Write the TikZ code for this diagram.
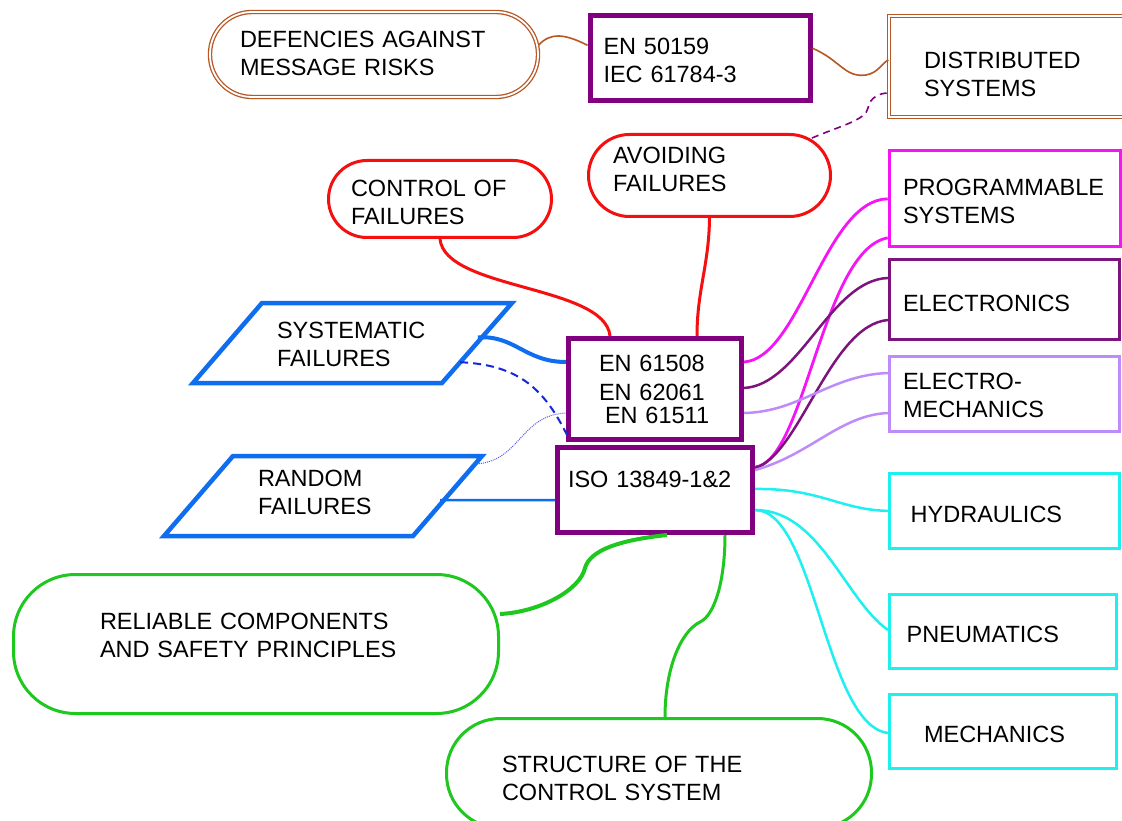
\documentclass[tikz,border=0pt]{standalone}
\usepackage{fontspec}
\setmainfont{Liberation Sans}
\usepackage{array}
\usetikzlibrary{calc}

\definecolor{brownc}{RGB}{183,87,36}
\definecolor{purplec}{RGB}{128,0,128}
\definecolor{redc}{RGB}{245,15,15}
\definecolor{bluec}{RGB}{15,110,240}
\definecolor{darkbluec}{RGB}{20,40,220}
\definecolor{dotbluec}{RGB}{90,90,230}
\definecolor{magentac}{RGB}{245,20,245}
\definecolor{elecc}{RGB}{125,20,125}
\definecolor{violetc}{RGB}{190,140,250}
\definecolor{cyanc}{RGB}{30,240,240}
\definecolor{greenc}{RGB}{30,200,30}

% text block: left aligned lines, raised by #1 without changing the box size
\newcommand\boxtext[2]{\raisebox{#1}[\height][\depth]{\begin{tabular}{@{}l@{}}#2\end{tabular}}}

\begin{document}
\begin{tikzpicture}[x=1pt,y=-1pt,
  every node/.style={font=\fontsize{23.5}{28}\selectfont, inner sep=0pt, align=left},
  brownbox/.style={draw=brownc, line width=1.3pt, double=white, double distance=1.8pt},
  stdbox/.style={draw=purplec, line width=5pt},
  redbox/.style={draw=redc, line width=3pt},
  magbox/.style={draw=magentac, line width=3pt},
  elecbox/.style={draw=elecc, line width=3pt},
  violbox/.style={draw=violetc, line width=3pt},
  cyanbox/.style={draw=cyanc, line width=3pt},
  greenbox/.style={draw=greenc, line width=3pt},
  bluepar/.style={draw=bluec, line width=4.5pt, line join=miter},
  brownlink/.style={draw=brownc, line width=1.6pt},
  redlink/.style={draw=redc, line width=3pt},
  magline/.style={draw=magentac, line width=2.8pt},
  elecline/.style={draw=elecc, line width=2.5pt},
  violline/.style={draw=violetc, line width=2.5pt},
  cyanline/.style={draw=cyanc, line width=2.5pt},
  greenline/.style={draw=greenc, line width=3pt},
]
\fill[white] (0,0) rectangle (1122,821);
\useasboundingbox (0,0) rectangle (1122,821);
\clip (0,0) rectangle (1122,821);

% ---- upper row ----
\node[brownbox, rounded corners=42pt, minimum width=328pt, minimum height=85pt, text width=268pt]
  (defe) at (374,54.5) {\boxtext{-1pt}{DEFENCIES AGAINST\\MESSAGE RISKS}};
\node[stdbox, minimum width=220pt, minimum height=84.5pt, text width=193pt]
  (en50159) at (700,58.25) {\boxtext{-4.3pt}{EN 50159\\IEC 61784-3}};
\node[brownbox, minimum width=271pt, minimum height=101pt, text width=201pt]
  (dist) at (1024.5,66.5) {\boxtext{-10.3pt}{DISTRIBUTED\\SYSTEMS}};

\node[redbox, rounded corners=41pt, minimum width=242pt, minimum height=82pt, text width=193pt]
  (avoid) at (709.5,175.5) {\boxtext{3.45pt}{AVOIDING\\FAILURES}};
\node[redbox, rounded corners=38.5pt, minimum width=223pt, minimum height=77pt, text width=178pt]
  (control) at (440,199) {\boxtext{-6.3pt}{CONTROL OF\\FAILURES}};

% ---- standards in the middle ----
\node[stdbox, minimum width=173pt, minimum height=101pt, text width=112pt]
  (en61508) at (655,389) {\boxtext{-2.8pt}{EN 61508\\[1pt]EN 62061\\[-5pt]\hspace*{6pt}EN 61511}};
\node[stdbox, minimum width=195pt, minimum height=85pt, text width=174pt]
  (iso) at (655,490) {\boxtext{8.2pt}{ISO 13849-1\&2}};

% ---- failure kinds ----
\coordinate (sysTL) at (262,303);
\coordinate (sysTR) at (512,303);
\coordinate (sysBR) at (442,383);
\coordinate (sysBL) at (193,383);
\draw[bluepar] (sysTL) -- (sysTR) -- (sysBR) -- (sysBL) -- cycle;
\node[text width=160pt] (sys) at (357,347.05) {\boxtext{0pt}{SYSTEMATIC\\FAILURES}};

\coordinate (rndTL) at (233,456);
\coordinate (rndTR) at (482,456);
\coordinate (rndBR) at (413,536);
\coordinate (rndBL) at (164,536);
\draw[bluepar] (rndTL) -- (rndTR) -- (rndBR) -- (rndBL) -- cycle;
\node[text width=160pt] (rnd) at (338,494.8) {\boxtext{0pt}{RANDOM\\FAILURES}};

% ---- technologies ----
\node[magbox, minimum width=231.3pt, minimum height=96pt, text width=203.7pt]
  (prog) at (1004.85,198.8) {\boxtext{-5.25pt}{PROGRAMMABLE\\SYSTEMS}};
\node[elecbox, minimum width=230pt, minimum height=80pt, text width=203pt]
  (elec) at (1004.5,299.5) {\boxtext{-6.3pt}{ELECTRONICS}};
\node[violbox, minimum width=230pt, minimum height=75pt, text width=203pt]
  (elmech) at (1004.5,394) {\boxtext{-4.3pt}{ELECTRO-\\MECHANICS}};
\node[cyanbox, minimum width=230pt, minimum height=75.3pt, text width=187.6pt]
  (hydr) at (1004.5,510.85) {\boxtext{-5.95pt}{HYDRAULICS}};
\node[cyanbox, minimum width=226.7pt, minimum height=74pt, text width=192.3pt]
  (pneu) at (1002.85,631.5) {\boxtext{-5.3pt}{PNEUMATICS}};
\node[cyanbox, minimum width=227pt, minimum height=74.3pt, text width=158pt]
  (mech) at (1003,731.35) {\boxtext{-5.95pt}{MECHANICS}};

% ---- design principles ----
\node[greenbox, rounded corners=62pt, minimum width=485pt, minimum height=139pt, text width=312pt]
  (rel) at (256,644) {\boxtext{5.95pt}{RELIABLE COMPONENTS\\AND SAFETY PRINCIPLES}};
\node[greenbox, rounded corners=54pt, minimum width=425pt, minimum height=109.5pt, text width=314pt]
  (struct) at (659,773.25) {\boxtext{-8.05pt}{STRUCTURE OF THE\\CONTROL SYSTEM}};

% ---- connectors ----
\draw[brownlink] ($(defe.east)+(0,-9.5)$) .. controls (551,32) and (565,34) .. ($(en50159.west)+(0,-13)$);
\draw[brownlink] ($(en50159.east)+(0,-10)$) .. controls (840,60) and (845,78) .. (866,75)
  .. controls (878,73) and (882,63) .. ($(dist.west)+(0,-6.5)$);
\draw[draw=purplec, line width=1.6pt, dash pattern=on 7pt off 5pt]
  ($(avoid.north east)+(-20,5)$) .. controls (840,126) and (866,120) .. (868,108)
  .. controls (870,97) and (880,93) .. ($(dist.west)+(0,26.5)$);

\draw[redlink] (control.south) .. controls (445,290) and (605,285) .. ($(en61508.north)+(-45,0)$);
\draw[redlink] (avoid.south) .. controls (709,265) and (697,290) .. ($(en61508.north)+(42,0)$);

\draw[draw=bluec, line width=4pt] ($(sysTR)!0.43!(sysBR)+(-4,0)$) .. controls (515,335) and (525,362) .. ($(en61508.west)+(0,-27)$);
\draw[draw=darkbluec, line width=2pt, dash pattern=on 8pt off 5pt]
  ($(sysTR)!0.74!(sysBR)$) .. controls (520,365) and (545,390) .. ($(en61508.south west)+(2,-5)$);
\draw[draw=dotbluec, line width=1pt, densely dotted]
  ($(rndTR)!0.1!(rndBR)$) .. controls (520,462) and (520,415) .. ($(en61508.west)+(0,24)$);
\draw[draw=bluec, line width=2.5pt] ($(rndTR)!0.55!(rndBR)+(-4,0)$) -- ($(iso.west)+(0,10)$);

\draw[magline] ($(en61508.east)+(0,-27)$) .. controls (800,358) and (825,200) .. (prog.west);
\draw[magline] ($(iso.east)+(0,-23)$) .. controls (805,462) and (822,250) .. ($(prog.west)+(0,39)$);
\draw[elecline] ($(en61508.east)+(0,-1)$) .. controls (800,385) and (830,280) .. ($(elec.west)+(0,-21.5)$);
\draw[elecline] ($(iso.east)+(0,-22)$) .. controls (800,455) and (830,325) .. ($(elec.west)+(0,20.5)$);
\draw[violline] ($(en61508.east)+(0,24)$) .. controls (800,412) and (830,375) .. ($(elmech.west)+(0,-21)$);
\draw[violline] ($(iso.east)+(0,-20)$) .. controls (810,455) and (840,415) .. ($(elmech.west)+(0,19)$);

\draw[cyanline] ($(iso.east)+(0,-1)$) .. controls (820,488) and (840,510) .. (hydr.west);
\draw[cyanline] ($(iso.east)+(0,20)$) .. controls (820,510) and (845,600) .. ($(pneu.west)+(0,-1.5)$);
\draw[cyanline] ($(iso.east)+(0,20)$) .. controls (815,510) and (825,725) .. ($(mech.west)+(0,1.65)$);

\draw[greenline, line width=4pt] ($(iso.south)+(12,0)$) .. controls (620,540) and (590,550) .. (585,568)
  .. controls (580,590) and (540,612) .. ($(rel.east)+(0,-30)$);
\draw[greenline] ($(iso.south)+(70,0)$) .. controls (725,580) and (715,615) .. (700,622)
  .. controls (680,632) and (665,670) .. ($(struct.north)+(6,0)$);
\end{tikzpicture}
\end{document}
